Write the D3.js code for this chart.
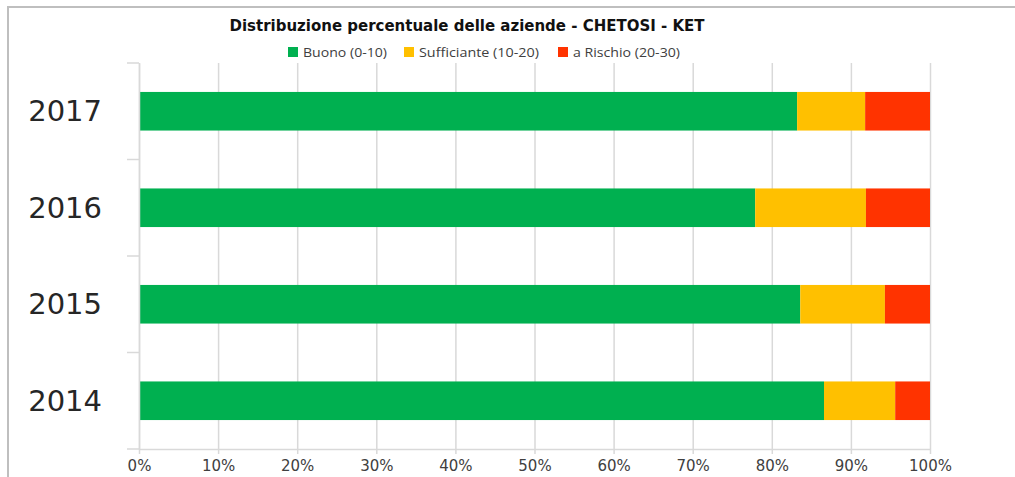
<!DOCTYPE html>
<html>
<head>
<meta charset="utf-8">
<script src="https://cdn.jsdelivr.net/npm/d3@7"></script>
<style>
  html, body { margin: 0; padding: 0; background: #fff; }
  svg { display: block; }
</style>
</head>
<body>
<div id="chart"></div>
<script>
// data, top to bottom
const years = ["2017", "2016", "2015", "2014"];
const buono = [83.2, 77.9, 83.6, 86.6];
const sufficiente = [8.6, 14.0, 10.7, 9.0];
const rischio = [8.2, 8.1, 5.7, 4.4];
const seriesNames = ["Buono (0-10)", "Sufficiante (10-20)", "a Rischio (20-30)"];
const seriesColors = ["#00b050", "#ffc000", "#ff3300"];
const xTicks = [0, 0.1, 0.2, 0.3, 0.4, 0.5, 0.6, 0.7, 0.8, 0.9, 1];

const width = 1015;
const height = 477;
const plot = { left: 139, right: 930, top: 63, bottom: 449 };

const svg = d3.select("#chart")
  .append("svg")
  .attr("width", width)
  .attr("height", height)
  .attr("viewBox", `0 0 ${width} ${height}`);

// background + frame
svg.append("rect")
  .attr("width", width)
  .attr("height", height)
  .attr("fill", "#fff");
svg.append("path")
  .attr("d", `M8,${height} V7 H${width}`)
  .attr("fill", "none")
  .attr("stroke", "#bfbfbf")
  .attr("stroke-width", 2);

const x = d3.scaleLinear().domain([0, 1]).range([plot.left, plot.right]);
const y = d3.scaleBand()
  .domain(years)
  .range([plot.top, plot.bottom])
  .paddingInner(0.6)
  .paddingOuter(0.3);

// vertical gridlines
svg.append("g")
  .attr("transform", `translate(0,${plot.bottom})`)
  .call(
    d3.axisBottom(x)
      .tickValues(xTicks)
      .tickSize(-(plot.bottom - plot.top))
      .tickFormat("")
  )
  .call(g => g.select(".domain").remove())
  .call(g => g.selectAll("line").attr("stroke", "#d9d9d9").attr("stroke-width", 1.5));

// stacked bars
const rows = years.map((yr, i) => ({ year: yr, b: buono[i] / 100, s: sufficiente[i] / 100, r: rischio[i] / 100 }));
const stack = d3.stack().keys(["b", "s", "r"])(rows);

svg.append("g")
  .selectAll("g")
  .data(stack)
  .join("g")
  .attr("fill", (d, i) => seriesColors[i])
  .selectAll("rect")
  .data(d => d)
  .join("rect")
  .attr("x", d => x(d[0]))
  .attr("y", d => y(d.data.year))
  .attr("width", d => x(d[1]) - x(d[0]))
  .attr("height", y.bandwidth());

// bottom axis
const xAxis = svg.append("g")
  .attr("transform", `translate(0,${plot.bottom})`)
  .call(
    d3.axisBottom(x)
      .tickValues(xTicks)
      .tickSize(5)
      .tickSizeOuter(0)
      .tickPadding(6)
      .tickFormat(d3.format(".0%"))
  );
xAxis.select(".domain").attr("stroke", "#d9d9d9").attr("stroke-width", 1.5);
xAxis.selectAll("line").attr("stroke", "#d9d9d9").attr("stroke-width", 1.5);
xAxis.selectAll("text")
  .attr("fill", "#404040")
  .style("font-family", "DejaVu Sans, sans-serif")
  .style("font-size", "15px");

// left axis: labels and boundary ticks
const boundaries = years.map(d => y(d) - y.step() * y.paddingInner() / 2).concat([plot.bottom]);
const yAxis = svg.append("g")
  .attr("transform", `translate(${plot.left},0)`)
  .call(d3.axisLeft(y).tickSize(0).tickPadding(37).tickSizeOuter(0));
yAxis.select(".domain").attr("stroke", "#d9d9d9").attr("stroke-width", 1.5);
yAxis.selectAll("text")
  .attr("fill", "#262626")
  .attr("dy", "0.35em")
  .style("font-family", "DejaVu Sans, sans-serif")
  .style("font-size", "29px");
yAxis.selectAll(".bound")
  .data(boundaries)
  .join("line")
  .attr("class", "bound")
  .attr("x1", -12)
  .attr("x2", 0)
  .attr("y1", d => d)
  .attr("y2", d => d)
  .attr("stroke", "#d9d9d9")
  .attr("stroke-width", 1.5);

// title
svg.append("text")
  .attr("x", 467)
  .attr("y", 31)
  .attr("text-anchor", "middle")
  .attr("fill", "#111")
  .attr("textLength", 475)
  .attr("lengthAdjust", "spacingAndGlyphs")
  .style("font-family", "DejaVu Sans, sans-serif")
  .style("font-weight", "bold")
  .style("font-size", "16px")
  .text("Distribuzione percentuale delle aziende - CHETOSI - KET");

// legend
const legendX = [288, 404, 558];
const legendW = [84, 120, 107];
const legend = svg.append("g")
  .selectAll("g")
  .data(seriesNames)
  .join("g")
  .attr("transform", (d, i) => `translate(${legendX[i]},52)`);
legend.append("rect")
  .attr("x", 0)
  .attr("y", -5)
  .attr("width", 10)
  .attr("height", 10)
  .attr("fill", (d, i) => seriesColors[i]);
legend.append("text")
  .attr("x", 15)
  .attr("y", 4.5)
  .attr("fill", "#404040")
  .attr("textLength", (d, i) => legendW[i])
  .attr("lengthAdjust", "spacingAndGlyphs")
  .style("font-family", "Open Sans, sans-serif")
  .style("font-size", "12px")
  .text(d => d);
</script>
</body>
</html>
